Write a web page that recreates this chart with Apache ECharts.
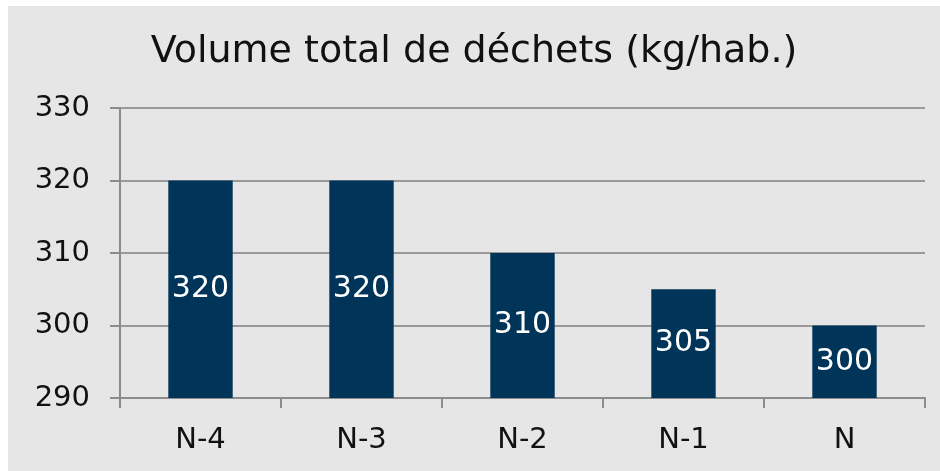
<!DOCTYPE html>
<html>
<head>
<meta charset="utf-8">
<script src="https://cdn.jsdelivr.net/npm/echarts@6/dist/echarts.min.js"></script>
<style>
  html, body { margin: 0; padding: 0; background: #ffffff; width: 940px; height: 471px; overflow: hidden; }
  #chart { position: absolute; left: 8px; top: 6px; width: 932px; height: 465px; background: #e6e6e6; }
</style>
</head>
<body>
<div id="chart"></div>
<script>
// Waste volume per inhabitant over the last five years
const titleText = 'Volume total de déchets (kg/hab.)';
const years = ['N-4', 'N-3', 'N-2', 'N-1', 'N'];
const wasteKg = [320, 320, 310, 305, 300];
const yMin = 290, yMax = 330, yStep = 10;

const fontFamily = '"DejaVu Sans", sans-serif';
const chart = echarts.init(document.getElementById('chart'), null, { renderer: 'canvas' });

chart.setOption({
  backgroundColor: '#e6e6e6',
  animation: false,
  title: {
    text: titleText,
    left: 'center',
    top: 22,
    textStyle: { fontFamily, fontSize: 38, fontWeight: 'normal', color: '#111111' }
  },
  grid: { left: 112, right: 15, top: 102, bottom: 73, containLabel: false },
  xAxis: {
    type: 'category',
    data: years,
    axisLine: { lineStyle: { color: '#8c8c8c', width: 2 } },
    axisTick: { show: true, length: 10, lineStyle: { color: '#8c8c8c', width: 2 } },
    axisLabel: { margin: 28, fontFamily, fontSize: 29, color: '#111111' }
  },
  yAxis: {
    type: 'value',
    min: yMin, max: yMax, interval: yStep,
    axisLine: { show: true, lineStyle: { color: '#8c8c8c', width: 2 } },
    axisTick: { show: true, length: 10, lineStyle: { color: '#8c8c8c', width: 2 } },
    splitLine: { lineStyle: { color: '#9a9a9a', width: 2 } },
    axisLabel: { margin: 30, fontFamily, fontSize: 29, color: '#111111' }
  },
  series: [{
    type: 'bar',
    data: wasteKg,
    barWidth: '40%',
    itemStyle: { color: '#003459' },
    label: {
      show: true,
      position: 'inside',
      fontFamily, fontSize: 30, color: '#ffffff'
    }
  }]
});
</script>
</body>
</html>
